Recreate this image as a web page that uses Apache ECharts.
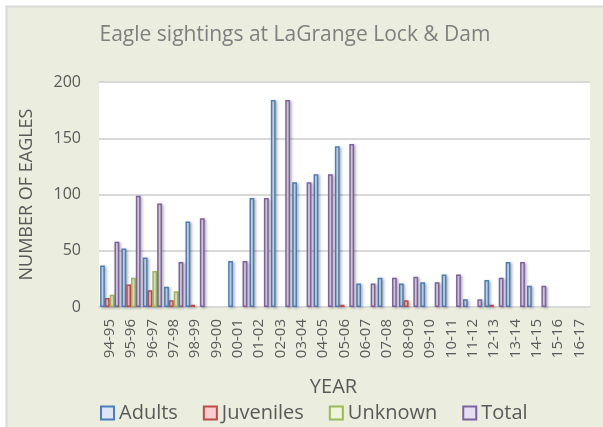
<!DOCTYPE html>
<html>
<head>
<meta charset="utf-8">
<script src="https://cdn.jsdelivr.net/npm/echarts@6/dist/echarts.min.js"></script>
<style>
  html, body { margin: 0; padding: 0; background: #fff; }
  #chart { width: 603px; height: 427px; }
</style>
</head>
<body>
<div id="chart"></div>
<script>
// season labels
var years = ["94-95", "95-96", "96-97", "97-98", "98-99", "99-00", "00-01", "01-02",
  "02-03", "03-04", "04-05", "05-06", "06-07", "07-08", "08-09", "09-10", "10-11",
  "11-12", "12-13", "13-14", "14-15", "15-16", "16-17"];
// counts (null = nothing drawn)
var adults    = [37, 52, 44, 18, 76, null, 41, 97, 184, 111, 118, 143, 21, 26, 21, 22, 29, 7, 24, 40, 19, null, null];
var juveniles = [8, 20, 15, 6, 2, null, null, null, null, null, null, 2, null, null, 6, null, null, null, 2, null, null, null, null];
var unknown   = [11, 26, 32, 14, null, null, null, null, null, null, null, null, null, null, null, null, null, null, null, null, null, null, null];
var total     = [58, 99, 92, 40, 79, null, 41, 97, 184, 111, 118, 145, 21, 26, 27, 22, 29, 7, 26, 40, 19, null, null];
var yTicks = [0, 50, 100, 150, 200];

var font = "'Open Sans', sans-serif";
var grey = "#595959";

function barSeries(name, data, fill, edge) {
  return {
    name: name,
    type: "bar",
    data: data,
    barGap: "0%",
    barCategoryGap: "10%",
    itemStyle: {
      color: fill,
      borderColor: edge,
      borderWidth: 1.5,
      shadowColor: "rgba(0,0,0,0.25)",
      shadowBlur: 3,
      shadowOffsetX: 1.5,
      shadowOffsetY: 1
    }
  };
}

var myChart = echarts.init(document.getElementById("chart"));
myChart.setOption({
  backgroundColor: "#ffffff",
  animation: false,
  graphic: [{
    type: "rect",
    z: -10,
    shape: { x: 6.5, y: 6.5, width: 610, height: 440 },
    style: { fill: "#EBEEDF", stroke: "#D9D9D9", lineWidth: 2 }
  }, {
    type: "rect",
    z: -9,
    shape: { x: 99, y: 82, width: 491, height: 225 },
    style: { fill: "#ffffff" }
  }],
  title: {
    text: "Eagle sightings at LaGrange Lock & Dam",
    left: 290,
    textAlign: "center",
    top: 20,
    textStyle: { fontFamily: font, fontSize: 21, fontWeight: "normal", color: "#7f7f7f" }
  },
  legend: {
    data: ["Adults", "Juveniles", "Unknown", "Total"],
    left: 95,
    top: 398,
    icon: "rect",
    itemWidth: 13,
    itemHeight: 13,
    itemGap: 25,
    textStyle: { fontFamily: font, fontSize: 20, color: grey }
  },
  grid: { left: 99, right: 13, top: 82, bottom: 120 },
  xAxis: {
    type: "category",
    data: years,
    name: "YEAR",
    nameLocation: "middle",
    nameGap: 70,
    nameTextStyle: { fontFamily: font, fontSize: 20, color: grey, padding: [0, 22, 0, 0] },
    axisTick: { show: false },
    axisLine: { lineStyle: { color: "#D9D9D9", width: 2 } },
    axisLabel: { rotate: 90, interval: 0, fontFamily: font, fontSize: 15, color: grey, margin: 12 }
  },
  yAxis: {
    type: "value",
    min: yTicks[0],
    max: yTicks[yTicks.length - 1],
    interval: 50,
    name: "NUMBER OF EAGLES",
    nameLocation: "middle",
    nameGap: 63,
    nameTextStyle: { fontFamily: font, fontSize: 18, color: grey },
    axisLine: { show: false },
    axisTick: { show: false },
    axisLabel: { fontFamily: font, fontSize: 16, color: grey, margin: 18 },
    splitLine: { lineStyle: { color: "#D9D9D9", width: 2 } }
  },
  series: [
    barSeries("Adults", adults, "#DCE6F4", "#4A7EBB"),
    barSeries("Juveniles", juveniles, "#F8CFCE", "#BE4B48"),
    barSeries("Unknown", unknown, "#EEF5DC", "#98B954"),
    barSeries("Total", total, "#E6DFEF", "#7D60A0")
  ]
});
</script>
</body>
</html>
